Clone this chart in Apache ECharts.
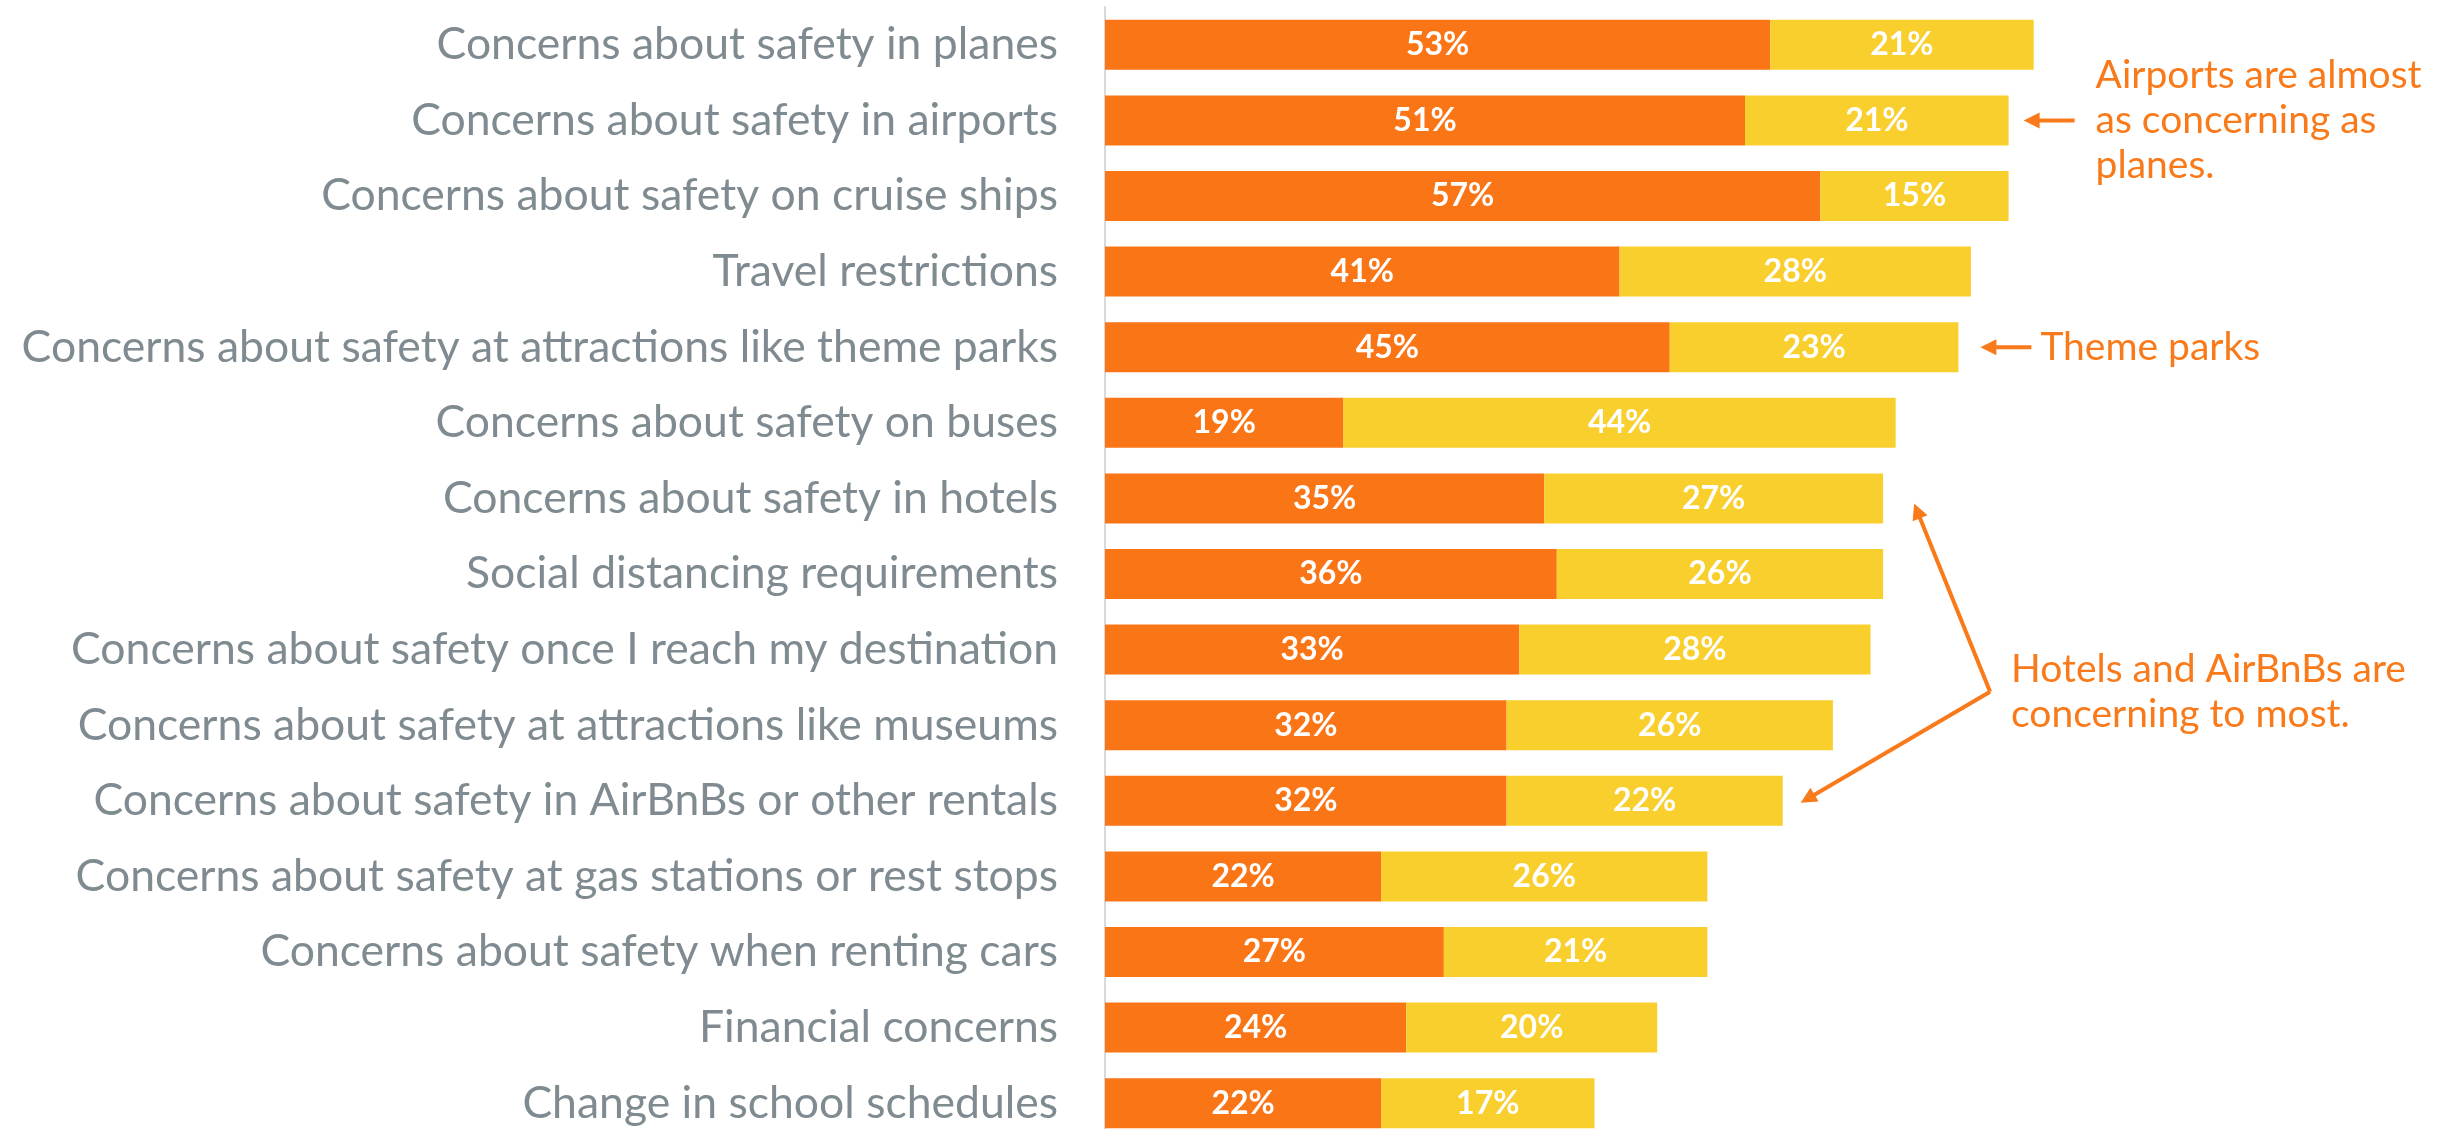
<!DOCTYPE html>
<html>
<head>
<meta charset="utf-8">
<script src="https://cdn.jsdelivr.net/npm/echarts@6/dist/echarts.min.js"></script>
<style>
  html, body { margin: 0; padding: 0; background: #ffffff; }
  #chart { width: 2456px; height: 1129px; }
</style>
</head>
<body>
<div id="chart"></div>
<script>
// Travel concerns, share of respondents (%)
const categories = [
  'Concerns about safety in planes',
  'Concerns about safety in airports',
  'Concerns about safety on cruise ships',
  'Travel restrictions',
  'Concerns about safety at attractions like theme parks',
  'Concerns about safety on buses',
  'Concerns about safety in hotels',
  'Social distancing requirements',
  'Concerns about safety once I reach my destination',
  'Concerns about safety at attractions like museums',
  'Concerns about safety in AirBnBs or other rentals',
  'Concerns about safety at gas stations or rest stops',
  'Concerns about safety when renting cars',
  'Financial concerns',
  'Change in school schedules'
];
const stronglyConcerned = [53, 51, 57, 41, 45, 19, 35, 36, 33, 32, 32, 22, 27, 24, 22];
const somewhatConcerned = [21, 21, 15, 28, 23, 44, 27, 26, 28, 26, 22, 26, 21, 20, 17];

const ORANGE = '#FA7516';
const YELLOW = '#F9CF2D';
const NOTE = '#F97A1A';
const LABEL_GRAY = '#7F8B90';

const chart = echarts.init(document.getElementById('chart'), null, { renderer: 'canvas' });

const valueLabel = {
  show: true,
  position: 'inside',
  color: '#ffffff',
  fontFamily: 'Lato',
  fontWeight: 'bold',
  fontSize: 32,
  formatter: p => p.value + '%'
};

chart.setOption({
  animation: false,
  backgroundColor: '#ffffff',
  grid: {
    left: 1105, top: 7, width: 1255, height: 1134,
    containLabel: false, outerBoundsMode: 'none'
  },
  xAxis: {
    type: 'value', min: 0, max: 100,
    show: false
  },
  yAxis: {
    type: 'category',
    data: categories,
    inverse: true,
    axisLine: { show: true, lineStyle: { color: '#D9D9D9', width: 2 } },
    axisTick: { show: false },
    axisLabel: {
      color: LABEL_GRAY, fontFamily: 'Lato', fontSize: 44.5, margin: 47
    },
    splitLine: { show: false }
  },
  series: [
    {
      name: 'Strongly concerned', type: 'bar', stack: 'total',
      data: stronglyConcerned, barWidth: 50,
      itemStyle: { color: ORANGE },
      label: valueLabel
    },
    {
      name: 'Somewhat concerned', type: 'bar', stack: 'total',
      data: somewhatConcerned, barWidth: 50,
      itemStyle: { color: YELLOW },
      label: valueLabel
    }
  ]
});

// Annotations, anchored to the end of the bars they point at
function barEnd(i) {
  return chart.convertToPixel({ xAxisIndex: 0, yAxisIndex: 0 },
    [stronglyConcerned[i] + somewhatConcerned[i], categories[i]]);
}

function arrow(x1, y1, x2, y2) {
  const dx = x2 - x1, dy = y2 - y1, len = Math.hypot(dx, dy);
  const ux = dx / len, uy = dy / len;
  const hl = 16, hw = 8;
  const bx = x2 - ux * hl, by = y2 - uy * hl;
  return [
    { type: 'line', shape: { x1: x1, y1: y1, x2: bx + ux * 2, y2: by + uy * 2 },
      style: { stroke: NOTE, lineWidth: 4 } },
    { type: 'polygon',
      shape: { points: [[x2, y2], [bx - uy * hw, by + ux * hw], [bx + uy * hw, by - ux * hw]] },
      style: { fill: NOTE } }
  ];
}

function note(x, y, text) {
  return {
    type: 'text', x: x, y: y,
    style: {
      text: text, fill: NOTE, fontFamily: 'Lato', fontSize: 39,
      lineHeight: 45, align: 'left', verticalAlign: 'middle'
    }
  };
}

const airports = barEnd(1);
const themeParks = barEnd(4);
const hotels = barEnd(6);
const rentals = barEnd(10);
const vertex = [hotels[0] + 107, rentals[1] - 109];

const elements = [].concat(
  arrow(airports[0] + 66, airports[1], airports[0] + 15, airports[1]),
  [note(airports[0] + 87, airports[1], 'Airports are almost\nas concerning as\nplanes.')],
  arrow(themeParks[0] + 73, themeParks[1], themeParks[0] + 22, themeParks[1]),
  [note(themeParks[0] + 82, themeParks[1], 'Theme parks')],
  arrow(vertex[0], vertex[1], hotels[0] + 31, hotels[1] + 5),
  arrow(vertex[0], vertex[1], rentals[0] + 18, rentals[1] + 2),
  [note(vertex[0] + 21, vertex[1], 'Hotels and AirBnBs are\nconcerning to most.')]
);

chart.setOption({ graphic: { elements: elements } });
</script>
</body>
</html>
